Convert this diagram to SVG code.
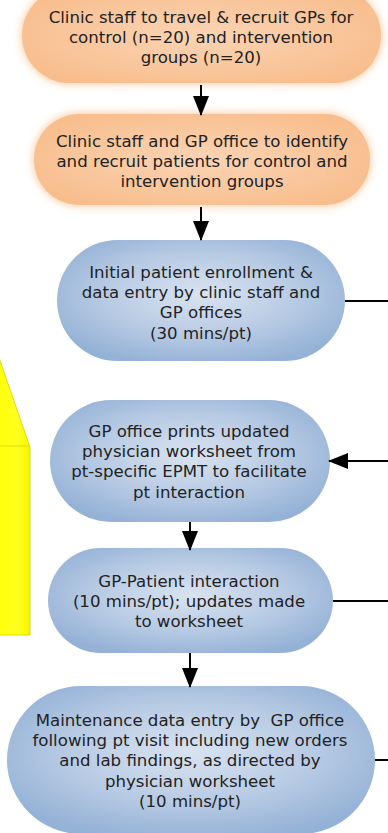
<svg xmlns="http://www.w3.org/2000/svg" width="388" height="833" viewBox="0 0 388 833">
<defs>
<style>
text{font-family:"DejaVu Sans","Verdana",sans-serif;font-size:16.6px;fill:#222;text-anchor:middle}
.orange{fill:url(#og);filter:url(#glow)}
.blue{fill:url(#bg)}
.conn{stroke:#000;stroke-width:2;fill:none}
.arr{marker-end:url(#ah)}
</style>
<radialGradient id="og" cx="0.5" cy="0.5" r="0.6">
<stop offset="0" stop-color="#fbd4b4"/>
<stop offset="0.6" stop-color="#f9c69c"/>
<stop offset="1" stop-color="#f8bd8c"/>
</radialGradient>
<radialGradient id="bg" cx="0.5" cy="0.45" r="0.6">
<stop offset="0" stop-color="#d9e3f0"/>
<stop offset="0.55" stop-color="#b8cbe4"/>
<stop offset="1" stop-color="#94b1d6"/>
</radialGradient>
<linearGradient id="yg" x1="0" y1="0" x2="1" y2="0">
<stop offset="0" stop-color="#ffff00"/>
<stop offset="0.7" stop-color="#ffff20"/>
<stop offset="1" stop-color="#f4f400"/>
</linearGradient>
<filter id="glow" x="-10%" y="-25%" width="120%" height="150%">
<feGaussianBlur in="SourceGraphic" stdDeviation="5" result="b"/>
<feMerge><feMergeNode in="b"/><feMergeNode in="SourceGraphic"/></feMerge>
</filter>
<marker id="ah" viewBox="0 0 20 16" markerWidth="20" markerHeight="16" refX="19" refY="8" orient="auto" markerUnits="userSpaceOnUse">
<path d="M0,0 L20,8 L0,16 z" fill="#000"/>
</marker>
</defs>

<g id="yellow-arrow">
<polygon points="-12,326 30,447 30,635 -12,635" fill="url(#yg)" stroke="#d2d200" stroke-width="0.8"/>
<line x1="0" y1="446" x2="29" y2="446" stroke="#d8d800" stroke-width="0.8"/>
</g>

<g id="n1">
<rect class="orange" x="22" y="-12" width="359" height="95" rx="47.5"/>
<text x="201" y="23">Clinic staff to travel &amp; recruit GPs for</text>
<text x="201" y="43">control (n=20) and intervention</text>
<text x="201" y="63">groups (n=20)</text>
</g>

<g id="n2">
<rect class="orange" x="34" y="114" width="336" height="91" rx="45.5"/>
<text x="202" y="147">Clinic staff and GP office to identify</text>
<text x="202" y="167">and recruit patients for control and</text>
<text x="202" y="187">intervention groups</text>
</g>

<g id="n3">
<rect class="blue" x="57" y="240" width="288" height="121" rx="60.5"/>
<text x="201" y="278">Initial patient enrollment &amp;</text>
<text x="201" y="298">data entry by clinic staff and</text>
<text x="201" y="318">GP offices</text>
<text x="201" y="339">(30 mins/pt)</text>
</g>

<g id="n4">
<rect class="blue" x="50" y="400" width="280" height="122" rx="61"/>
<text x="189" y="437">GP office prints updated</text>
<text x="189" y="457">physician worksheet from</text>
<text x="189" y="477">pt-specific EPMT to facilitate</text>
<text x="189" y="498">pt interaction</text>
</g>

<g id="n5">
<rect class="blue" x="48" y="548" width="285" height="105" rx="52.5"/>
<text x="189" y="587">GP-Patient interaction</text>
<text x="189" y="607">(10 mins/pt); updates made</text>
<text x="189" y="627">to worksheet</text>
</g>

<g id="n6">
<rect class="blue" x="7" y="686" width="368" height="148" rx="74"/>
<text x="190" y="726" xml:space="preserve">Maintenance data entry by  GP office</text>
<text x="190" y="746">following pt visit including new orders</text>
<text x="190" y="766">and lab findings, as directed by</text>
<text x="190" y="787">physician worksheet</text>
<text x="190" y="807">(10 mins/pt)</text>
</g>

<g id="connectors">
<line class="conn arr" x1="201" y1="85" x2="201" y2="115"/>
<line class="conn arr" x1="201" y1="207" x2="201" y2="240"/>
<line class="conn" x1="345" y1="301" x2="388" y2="301"/>
<line class="conn arr" x1="388" y1="461" x2="329" y2="461"/>
<line class="conn arr" x1="190" y1="522" x2="190" y2="550"/>
<line class="conn" x1="333" y1="601" x2="388" y2="601"/>
<line class="conn arr" x1="190" y1="653" x2="190" y2="687"/>
<line class="conn" x1="375" y1="760" x2="388" y2="760"/>
</g>
</svg>
